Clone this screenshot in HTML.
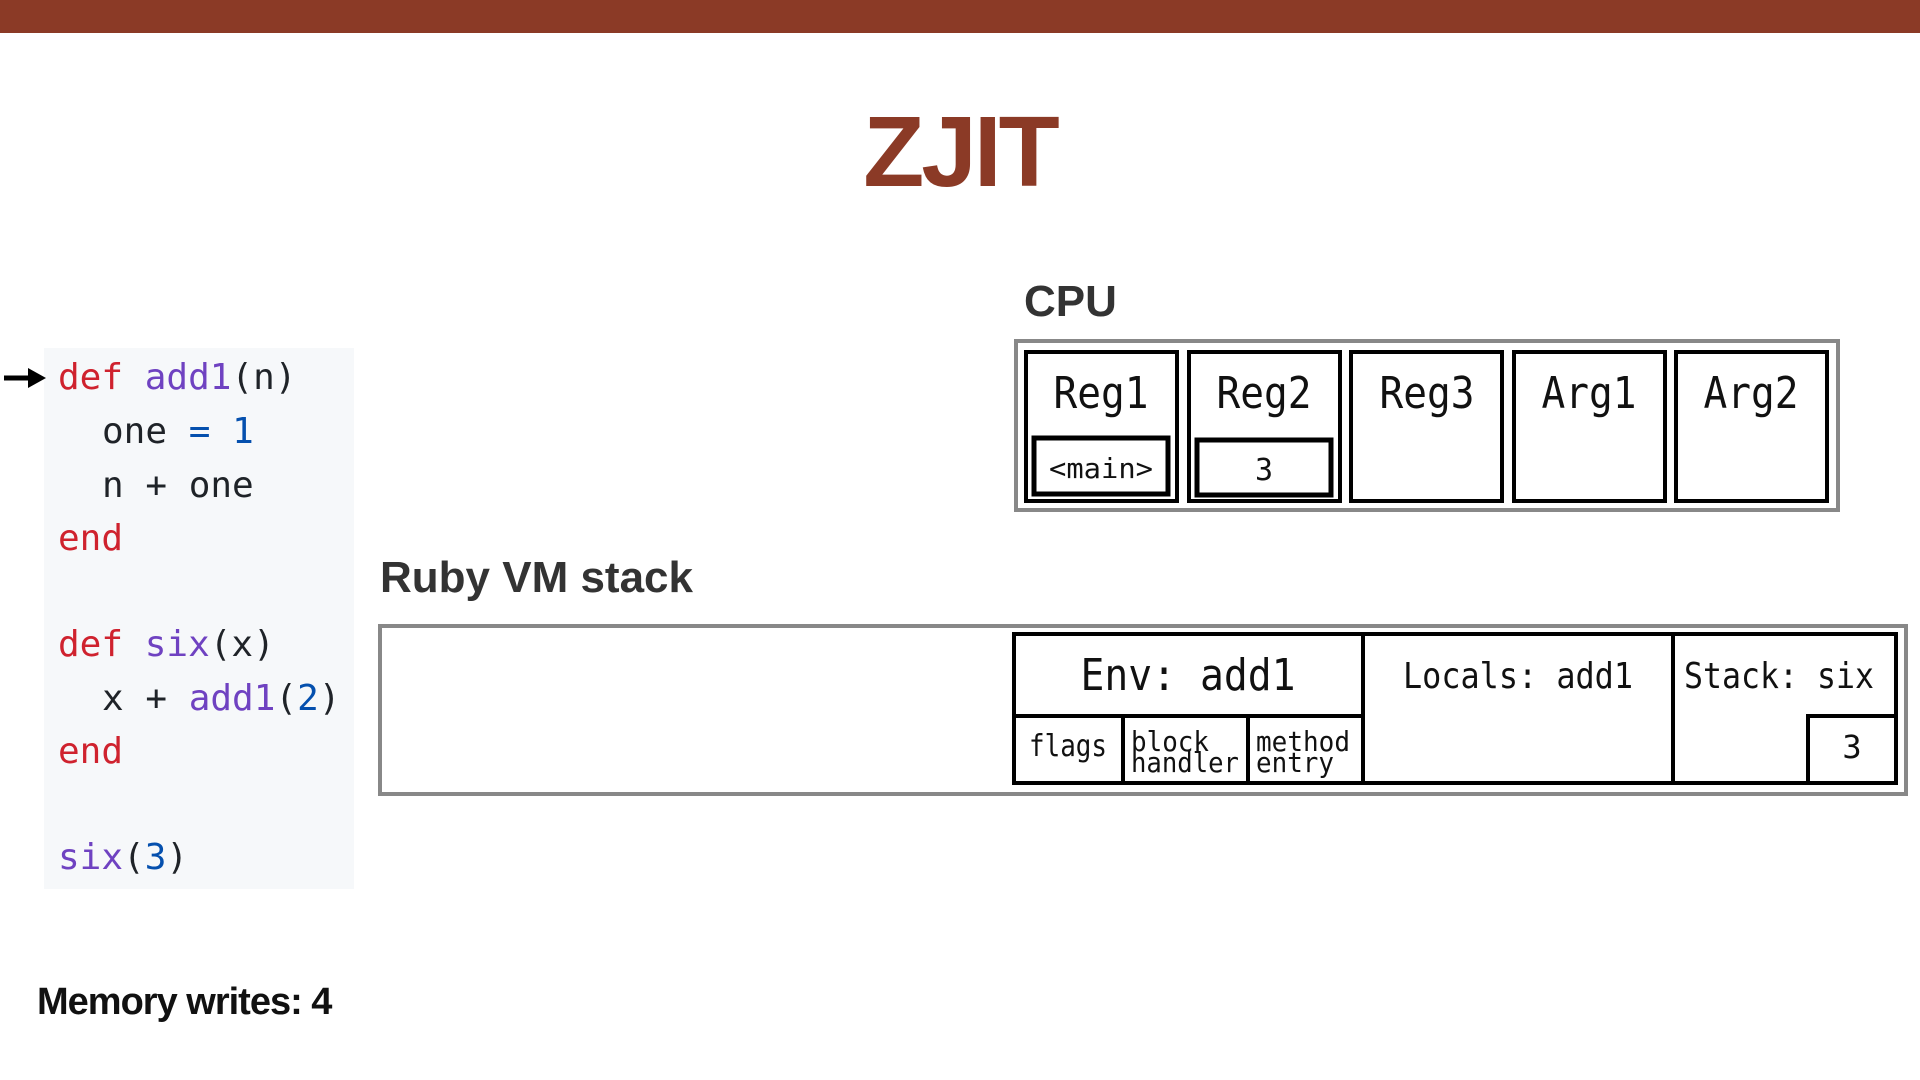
<!DOCTYPE html>
<html><head><meta charset="utf-8"><style>
html,body{margin:0;padding:0;background:#fff;}
svg{display:block;}
.m{font-family:"DejaVu Sans Mono","Liberation Mono",monospace;fill:#111;}
.c{font-family:"DejaVu Sans Mono","Liberation Mono",monospace;font-size:36px;}
</style></head><body>
<svg width="1920" height="1080" viewBox="0 0 1920 1080" xmlns="http://www.w3.org/2000/svg">
<rect x="0" y="0" width="1920" height="33" fill="#8b3a26"/>
<text x="960" y="186" text-anchor="middle" font-family="Liberation Sans, sans-serif" font-weight="bold" font-size="100" fill="#8b3a26" letter-spacing="-3">ZJIT</text>

<text x="1024" y="316" font-family="Liberation Sans, sans-serif" font-weight="bold" font-size="44" fill="#333">CPU</text>
<text x="380" y="592" font-family="Liberation Sans, sans-serif" font-weight="bold" font-size="44" fill="#333">Ruby VM stack</text>
<text x="37" y="1014" font-family="Liberation Sans, sans-serif" font-weight="bold" font-size="38" fill="#111" letter-spacing="-1">Memory writes: 4</text>

<!-- code -->
<rect x="44" y="348" width="310" height="541" fill="#f6f8fa"/>
<line x1="4" y1="378" x2="30" y2="378" stroke="#000" stroke-width="5"/>
<polygon points="28,368 46,378 28,388" fill="#000"/>
<g class="c">
<text x="58" y="389"><tspan fill="#cf222e">def</tspan> <tspan fill="#6f42c1">add1</tspan><tspan fill="#1f2328">(n)</tspan></text>
<text x="102" y="443"><tspan fill="#1f2328">one</tspan> <tspan fill="#0550ae">= 1</tspan></text>
<text x="102" y="497" fill="#1f2328">n + one</text>
<text x="58" y="550" fill="#cf222e">end</text>
<text x="58" y="656"><tspan fill="#cf222e">def</tspan> <tspan fill="#6f42c1">six</tspan><tspan fill="#1f2328">(x)</tspan></text>
<text x="102" y="710"><tspan fill="#1f2328">x + </tspan><tspan fill="#6f42c1">add1</tspan><tspan fill="#1f2328">(</tspan><tspan fill="#0550ae">2</tspan><tspan fill="#1f2328">)</tspan></text>
<text x="58" y="763" fill="#cf222e">end</text>
<text x="58" y="869"><tspan fill="#6f42c1">six</tspan><tspan fill="#1f2328">(</tspan><tspan fill="#0550ae">3</tspan><tspan fill="#1f2328">)</tspan></text>
</g>

<!-- CPU -->
<rect x="1016" y="341" width="822" height="169" fill="none" stroke="#888" stroke-width="4"/>
<g fill="none" stroke="#000" stroke-width="4">
<rect x="1026" y="352" width="151" height="149"/>
<rect x="1189" y="352" width="151" height="149"/>
<rect x="1351" y="352" width="151" height="149"/>
<rect x="1514" y="352" width="151" height="149"/>
<rect x="1676" y="352" width="151" height="149"/>
<rect x="1034" y="438" width="134" height="56" stroke-width="5"/>
<rect x="1197" y="440" width="134" height="55" stroke-width="5"/>
</g>
<g class="m" font-size="44" text-anchor="middle">
<text x="1101" y="408" textLength="95" lengthAdjust="spacingAndGlyphs">Reg1</text>
<text x="1264" y="408" textLength="95" lengthAdjust="spacingAndGlyphs">Reg2</text>
<text x="1427" y="408" textLength="95" lengthAdjust="spacingAndGlyphs">Reg3</text>
<text x="1589" y="408" textLength="95" lengthAdjust="spacingAndGlyphs">Arg1</text>
<text x="1751" y="408" textLength="95" lengthAdjust="spacingAndGlyphs">Arg2</text>
</g>
<text class="m" x="1101" y="478" font-size="28" text-anchor="middle" textLength="104" lengthAdjust="spacingAndGlyphs">&lt;main&gt;</text>
<text class="m" x="1264" y="480" font-size="30" text-anchor="middle">3</text>

<!-- VM stack -->
<rect x="380" y="626" width="1526" height="168" fill="none" stroke="#888" stroke-width="4"/>
<g fill="none" stroke="#000" stroke-width="4">
<rect x="1014" y="634" width="882" height="149"/>
<line x1="1014" y1="716" x2="1363" y2="716"/>
<line x1="1363" y1="634" x2="1363" y2="783"/>
<line x1="1673" y1="634" x2="1673" y2="783"/>
<line x1="1123" y1="716" x2="1123" y2="783"/>
<line x1="1248" y1="716" x2="1248" y2="783"/>
<rect x="1808" y="716" width="88" height="67"/>
</g>
<g class="m">
<text x="1188" y="690" font-size="44" text-anchor="middle" textLength="215" lengthAdjust="spacingAndGlyphs">Env: add1</text>
<text x="1518" y="688" font-size="36" text-anchor="middle" textLength="230" lengthAdjust="spacingAndGlyphs">Locals: add1</text>
<text x="1779" y="688" font-size="36" text-anchor="middle" textLength="190" lengthAdjust="spacingAndGlyphs">Stack: six</text>
<text x="1068" y="756" font-size="30" text-anchor="middle" textLength="78" lengthAdjust="spacingAndGlyphs">flags</text>
<text x="1131" y="751" font-size="28" textLength="78" lengthAdjust="spacingAndGlyphs">block</text>
<text x="1131" y="772" font-size="28" textLength="108" lengthAdjust="spacingAndGlyphs">handler</text>
<text x="1256" y="751" font-size="28" textLength="94" lengthAdjust="spacingAndGlyphs">method</text>
<text x="1256" y="772" font-size="28" textLength="78" lengthAdjust="spacingAndGlyphs">entry</text>
<text x="1852" y="758" font-size="32" text-anchor="middle">3</text>
</g>
</svg>
</body></html>
